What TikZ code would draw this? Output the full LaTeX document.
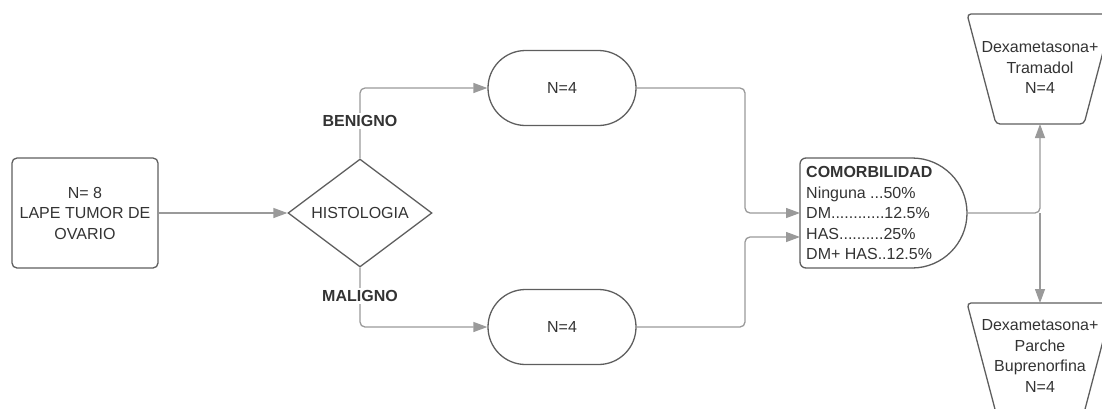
\documentclass[tikz,border=0pt]{standalone}
\usepackage{fontspec}
\setmainfont{Liberation Sans}
\usetikzlibrary{arrows.meta,shapes.geometric,shapes.misc,calc}
\definecolor{shp}{HTML}{5E5E5E}
\definecolor{cnn}{HTML}{9A9A9A}
\definecolor{txt}{HTML}{333333}
\begin{document}
\begin{tikzpicture}[x=1pt,y=-1pt,
  shapebox/.style={draw=shp,line width=1.3pt},
  conn/.style={draw=cnn,line width=1.3pt,rounded corners=5pt,-{Triangle[length=14pt,width=10pt]}},
  lbl/.style={text=txt,font=\fontsize{16}{20.5}\selectfont,align=center},
  edgelbl/.style={text=txt,font=\fontsize{16}{20}\selectfont\bfseries,fill=white,inner sep=2pt}]
\useasboundingbox (0,0) rectangle (1102,408);
\clip (0,0) rectangle (1102,408);

% start box
\node[shapebox,lbl,rounded corners=5pt,minimum width=146pt,minimum height=110pt,inner sep=0pt] (start) at (85,213) {N= 8\\LAPE TUMOR DE\\OVARIO};

% decision
\node[shapebox,lbl,diamond,aspect=1.4,inner sep=0pt,minimum width=144pt,minimum height=108pt] (hist) at (360,213) {HISTOLOGIA};

% pills
\node[shapebox,lbl,rounded rectangle,minimum width=148pt,minimum height=75pt,inner sep=0pt] (p1) at (562,88) {N=4};
\node[shapebox,lbl,rounded rectangle,minimum width=148pt,minimum height=75pt,inner sep=0pt] (p2) at (562,327) {N=4};

% comorbidity (delay shape)
\node[minimum width=167pt,minimum height=110pt,inner sep=0pt,outer sep=0pt] (com) at (883.5,213) {};
\draw[shapebox,rounded corners=6pt] (912,158) -- (com.north west) -- (com.south west) -- (912,268);
\draw[shapebox] (912,268) arc[start angle=90,end angle=-90,radius=55];
\node[lbl,align=left,anchor=west,inner sep=0pt] (comtxt) at (806,213)
  {\textbf{COMORBILIDAD}\\Ninguna ...50\%\\DM............12.5\%\\HAS..........25\%\\DM+ HAS..12.5\%};

% trapezoids
\draw[shapebox,rounded corners=4pt] (967,14) -- (1113,14) -- (1084,124) -- (996,124) -- cycle;
\node[lbl] (t1) at (1040,67.5) {Dexametasona+\\Tramadol\\N=4};
\coordinate (t1b) at (1040,124);
\draw[shapebox,rounded corners=4pt] (967,303) -- (1113,303) -- (1084,413) -- (996,413) -- cycle;
\node[lbl] (t2) at (1040,356) {Dexametasona+\\Parche\\Buprenorfina\\N=4};
\coordinate (t2t) at (1040,303);

% connectors
\draw[conn] (start.east) -- (hist.west);
\draw[conn] (hist.north) |- (p1.west);
\draw[conn] (hist.south) |- (p2.west);
\node[edgelbl] (ben) at (360,121) {BENIGNO};
\node[edgelbl] (mal) at (360,296) {MALIGNO};
\draw[conn] (p1.east) -- (745,88) -- (745,213) -- (com.west);
\draw[conn] (p2.east) -- (745,327) -- (745,237) -- ($(com.west)+(0,24)$);
\draw[conn] (com.east) -| (t1b);
\draw[conn] (com.east -| t2t) -- (t2t);
\end{tikzpicture}
\end{document}
